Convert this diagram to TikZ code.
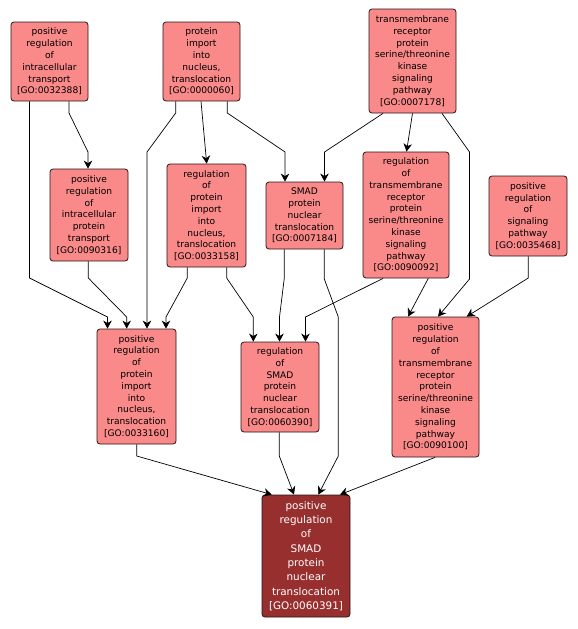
\documentclass[tikz,border=0pt]{standalone}
\usepackage{fontspec}
\newfontfamily\dvfont{DejaVu Sans}
\usetikzlibrary{arrows.meta}
\definecolor{gofill}{RGB}{250,137,137}
\definecolor{godark}{RGB}{152,47,47}
\definecolor{goline}{RGB}{40,20,20}
\tikzset{
  gobox/.style={draw=goline, line width=0.8pt, fill=gofill, rounded corners=3pt,
    align=center, inner sep=1pt, font=\dvfont\fontsize{9.1}{11.8}\selectfont},
  godarkbox/.style={gobox, fill=godark, text=white, font=\dvfont\fontsize{10.4}{14.3}\selectfont},
  goedge/.style={draw=black, line width=0.7pt, -{Stealth[length=8pt,width=8.5pt,inset=2.5pt]}}
}
\begin{document}
\begin{tikzpicture}[x=1pt,y=-1pt]
\useasboundingbox (0,0) rectangle (578,629);
% nodes
\node[gobox, minimum width=77, minimum height=79] (n32388) at (49.5,61.5)
  {positive\\regulation\\of\\intracellular\\transport\\{[GO:0032388]}};
\node[gobox, minimum width=77, minimum height=79] (n60) at (201.5,61.5)
  {protein\\import\\into\\nucleus,\\translocation\\{[GO:0000060]}};
\node[gobox, minimum width=87, minimum height=104] (n7178) at (412.5,61)
  {transmembrane\\receptor\\protein\\serine/threonine\\kinase\\signaling\\pathway\\{[GO:0007178]}};
\node[gobox, minimum width=78, minimum height=92] (n90316) at (89,215)
  {positive\\regulation\\of\\intracellular\\protein\\transport\\{[GO:0090316]}};
\node[gobox, minimum width=79, minimum height=103] (n33158) at (206.5,215.5)
  {regulation\\of\\protein\\import\\into\\nucleus,\\translocation\\{[GO:0033158]}};
\node[gobox, minimum width=77, minimum height=67] (n7184) at (304.5,215.5)
  {SMAD\\protein\\nuclear\\translocation\\{[GO:0007184]}};
\node[gobox, minimum width=86, minimum height=126] (n90092) at (406,215)
  {regulation\\of\\transmembrane\\receptor\\protein\\serine/threonine\\kinase\\signaling\\pathway\\{[GO:0090092]}};
\node[gobox, minimum width=78, minimum height=80] (n35468) at (528,216)
  {positive\\regulation\\of\\signaling\\pathway\\{[GO:0035468]}};
\node[gobox, minimum width=79, minimum height=115] (n33160) at (136.5,386.5)
  {positive\\regulation\\of\\protein\\import\\into\\nucleus,\\translocation\\{[GO:0033160]}};
\node[gobox, minimum width=78, minimum height=90] (n60390) at (280,387)
  {regulation\\of\\SMAD\\protein\\nuclear\\translocation\\{[GO:0060390]}};
\node[gobox, minimum width=87, minimum height=140] (n90100) at (435.5,387)
  {positive\\regulation\\of\\transmembrane\\receptor\\protein\\serine/threonine\\kinase\\signaling\\pathway\\{[GO:0090100]}};
\node[godarkbox, minimum width=88, minimum height=122] (n60391) at (306,556)
  {positive\\regulation\\of\\SMAD\\protein\\nuclear\\translocation\\{[GO:0060391]}};
% edges
\draw[goedge] (n32388.south -| 69,0) -- (69,113) -- (88,152) -- (n90316.north -| 88,0);
\draw[goedge] (n32388.south -| 29.5,0) -- (29.5,278) -- (107.5,317) -- (n33160.north -| 107.5,0);
\draw[goedge] (n60.south -| 175.7,0) -- (175.7,113) -- (147,152) -- (n33160.north -| 147,0);
\draw[goedge] (n60.south -| 201,0) -- (n33158.north -| 206.7,0);
\draw[goedge] (n60.south -| 227.3,0) -- (227.3,113) -- (285,152) -- (n7184.north -| 285,0);
\draw[goedge] (n7178.south -| 383,0) -- (324.5,152) -- (n7184.north -| 324.5,0);
\draw[goedge] (n7178.south -| 412.5,0) -- (n90092.north -| 406.5,0);
\draw[goedge] (n7178.south -| 442,0) -- (469.5,152) -- (469.5,279) -- (n90100.north -| 438,0);
\draw[goedge] (n35468.south -| 528.3,0) -- (528.3,278) -- (n90100.north -| 466.7,0);
\draw[goedge] (n90092.south -| 428.3,0) -- (n90100.north -| 408,0);
\draw[goedge] (n90092.south -| 383,0) -- (305.5,317) -- (n60390.north -| 305.5,0);
\draw[goedge] (n33158.south -| 187.3,0) -- (187.3,278) -- (166,317) -- (n33160.north -| 166,0);
\draw[goedge] (n33158.south -| 226.7,0) -- (226.7,278) -- (253.3,317) -- (n60390.north -| 253.3,0);
\draw[goedge] (n90316.south -| 88.3,0) -- (88.3,278) -- (126.7,317) -- (n33160.north -| 126.7,0);
\draw[goedge] (n7184.south -| 284.3,0) -- (284.3,278) -- (279.5,317) -- (n60390.north -| 279.5,0);
\draw[goedge] (n7184.south -| 324.3,0) -- (324.3,279) -- (338.3,317) -- (338.3,456) -- (n60391.north -| 318.3,0);
\draw[goedge] (n33160.south -| 136.7,0) -- (136.7,456) -- (n60391.north -| 271.7,0);
\draw[goedge] (n60390.south -| 279.3,0) -- (279.3,456) -- (n60391.north -| 294,0);
\draw[goedge] (n90100.south -| 435,0) -- (n60391.north -| 340,0);
\end{tikzpicture}
\end{document}
